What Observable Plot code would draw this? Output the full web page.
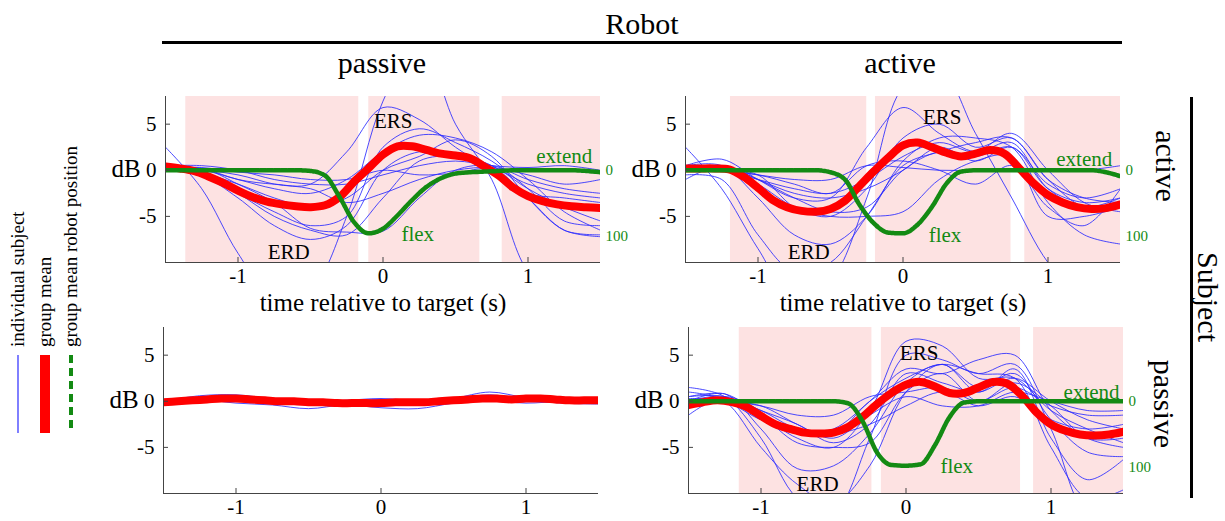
<!DOCTYPE html>
<html>
<head>
<meta charset="utf-8">
<script src="https://cdn.jsdelivr.net/npm/d3@7"></script>
<script src="https://cdn.jsdelivr.net/npm/@observablehq/plot@0.6"></script>
<style>
  body { margin: 0; background: #fff; }
  #fig { position: relative; width: 1225px; height: 521px; overflow: hidden; background: #fff;
         font-family: "Liberation Serif", "Times New Roman", serif; color: #000; }
  #fig svg text { font-family: "Liberation Serif", "Times New Roman", serif; }
  .abs { position: absolute; }
  .lbl { position: absolute; white-space: nowrap; transform: translate(-50%, -50%); line-height: 1; }
  .rot { transform: translate(-50%, -50%) rotate(90deg); }
</style>
</head>
<body>
<div id="fig"></div>
<script>
// ---- time grids (s) ----
const tKnots = [-1.5, -1.25, -1, -0.75, -0.5, -0.25, 0, 0.25, 0.5, 0.75, 1, 1.25, 1.5];
const tMean = [-1.5, -1.4, -1.3, -1.2, -1.1, -1, -0.9, -0.8, -0.7, -0.6, -0.5, -0.4, -0.3, -0.2, -0.1,
               0, 0.1, 0.2, 0.3, 0.4, 0.5, 0.6, 0.7, 0.8, 0.9, 1, 1.1, 1.2, 1.3, 1.4, 1.5];

// ---- axis ticks ----
const xTicks = [-1, 0, 1];
const yTicks = [-5, 0, 5];
const robotTicks = [0, 100];          // robot position (%), right-hand scale
const xDomain = [-1.5, 1.5];
const yDomain = [-10, 8];

// ---- Subject active / Robot passive ----
const apSubjects = [
  [2.5, -2.0, -9.0, -14, -13, -5, 7.5, 14, 5, -1, -11, -14, -12],
  [0.3, 0.2, -1, -1.5, -1.5, 2, 6.8, 5.5, 2.5, 0, -2.5, -3, -3.5],
  [0, -0.5, -2.5, -4.5, -6, -5, 2.5, 4.5, 3, 1, -2, -5.5, -6],
  [0, -0.3, -1.5, -3, -4, -3, 0, 1.5, 3.3, 1.5, -3, -6.5, -7],
  [0, 0, -1.0, -2, -2.5, -1, 2, 3.8, 3.5, 2, -1, -4.5, -6.5],
  [0.5, -0.5, -3, -6, -7.5, -6, 0, 2, 1.5, 0.5, -3, -6.5, -7.2],
  [0, -0.5, -2.5, -5, -6.5, -7, -3, 1, 1.5, 0.5, -2, -4, -5.5],
  [0, 0.2, -1.5, -3.5, -6.3, -6.7, -6.6, -3, 0, 0.5, -1, -2, -2.5],
  [0.5, 0.5, 0, -1, -1.5, -1.5, -0.5, 0.5, 1.0, 0.5, 0.3, 0.5, 0],
  [0, 0, -0.5, -1.5, -2.0, -3.5, -2.5, -1, 0, 0.3, -0.5, -1.5, -1],
  [0.3, 0.3, -0.2, -0.5, -1, -1, 0, -0.5, -0.3, 0.2, -1.5, -2.5, -3]
];
const apMean = [0.4, 0.2, -0.1, -0.7, -1.4, -2.2, -2.9, -3.4, -3.7, -3.9, -4.0, -3.8, -2.9, -1.25, 0.2,
                1.7, 2.6, 2.6, 2.2, 1.8, 1.6, 1.3, 0.4, -0.6, -1.9, -2.8, -3.35, -3.7, -3.9, -4.0, -4.1];
const apRobot = [0, 0, 0, 0, 0, 0, 0, 0, 0, 0, 1, 8, 40, 78, 95,
                 88, 68, 45, 25, 12, 5, 3, 2, 1, 0, 0, 0, 0, 0, 1, 3];
const apShades = [[-1.36, -0.167], [-0.098, 0.668], [0.822, 1.5]];

// ---- Subject active / Robot active ----
const aaSubjects = [
  [2.5, -2, -8.5, -14, -12, -3, 9, 11, 4, -3, -10, -14, -12],
  [0.5, 1.2, -1, -3, -3, 2.5, 6.8, 4, 2, 3, -2, -4, -3],
  [0, 0.3, -1.5, -4, -5, -2, 3.5, 5.0, 2.5, 3.5, -1, -3, -3.5],
  [0, 0, -1, -2, -2.5, -1, 1.5, 3, 2, 4.0, 0, -3.5, -4.5],
  [0.5, 0.5, -3, -7, -8, -5, 1, 3.5, 3.5, 2.5, -3.5, -7, -8],
  [-0.5, -1, -7, -11, -10, -5, 0.5, 2, 3, 3.5, -1, -4, -4],
  [-1, 0.5, -1, -2.5, -3.0, -2.0, 0, 2.5, 1.0, 2.5, -1.5, -3, -2],
  [0, 0, -0.5, -1, -1, 0.5, 0.3, 0, 0, 0, 0, 0, 0.5],
  [0.3, 0, -0.5, -4, -5, -5, -4.5, -1, 1, 1.5, -5, -5, -4],
  [0, 0.5, -1, -3, -4.5, -4, 0, 2, 1.5, 2.5, -2, -3.5, -3],
  [0, 0, -0.5, -1.5, -2.5, 0.5, 1, 0, -1.5, 0.5, -4, -6, -2]
];
const aaMean = [0.2, 0.2, 0.2, 0.1, -0.7, -1.9, -3.2, -4.0, -4.4, -4.5, -4.2, -3.3, -1.7, -0.1, 1.4,
                2.7, 3.0, 2.5, 1.9, 1.5, 1.8, 2.2, 1.8, 0.25, -1.4, -2.7, -3.5, -4.0, -4.2, -4.1, -3.7];
const aaRobot = [0, 0, 0, 0, 0, 0, 0, 0, 0, 0, 3, 14, 52, 80, 94,
                 95, 82, 55, 20, 2, 0, 0, 0, 0, 0, 0, 0, 0, 0, 3, 9];
const aaShades = [[-1.19, -0.25], [-0.19, 0.745], [0.84, 1.5]];

// ---- Subject passive / Robot passive ----
const ppSubjects = [
  [0, 0.6, 0.7, 0.3, 0.2, 0, 0.2, -0.2, 0.3, 1.0, 0.4, 0.2, 0.2],
  [0, 0.2, -0.2, -0.4, -0.8, -0.4, -0.7, -0.8, -0.2, 0.2, 0.1, -0.2, -0.3],
  [0, 0.1, 0.4, 0.2, -0.2, -0.2, 0.1, 0.1, 0.2, 0.7, 0.2, 0.3, 0.4],
  [0, 0.1, 0, -0.1, -0.3, -0.2, -0.4, -0.3, 0, 0.1, -0.2, 0, -0.1],
  [0, 0, 0.1, 0.2, 0, 0.1, 0.3, 0.1, 0.4, 0.3, 0.4, 0.4, 0.4]
];
const ppMean = [-0.1, 0.0, 0.1, 0.2, 0.3, 0.3, 0.2, 0.1, 0.0, 0.0, -0.1, -0.1, -0.2, -0.2, -0.2,
                -0.2, -0.1, -0.1, -0.1, 0.0, 0.1, 0.2, 0.3, 0.3, 0.2, 0.3, 0.3, 0.2, 0.1, 0.1, 0.1];

// ---- Subject passive / Robot active ----
const paSubjects = [
  [1.5, 0.5, -4, -10.5, -12, -4, 5, 4.5, 3, 4, -3, -12, -10],
  [0.5, 0.8, -1.5, -4, -5, -1, 6.5, 6, 2.5, 2.5, -1, -3, -4.5],
  [0, 0.5, -2, -3.5, -3, 0, 3.5, 3, 4.5, 5, -1, -4, -5],
  [0, 0.8, -3, -7.3, -7, -3.5, 2, 4.0, 1.5, 3, -2, -5.5, -6],
  [1, 0, -5, -9, -11, -7, 1, 4, 1, 3.5, -4, -8.5, -6.3],
  [-1.5, 0.5, -1, -2.5, -4.5, -2.5, 3, 2, 1, 2.5, 0, -2, -3],
  [0, 0, -0.5, -1.5, -1.5, 0.5, 1, 1.5, 0, 1.5, -0.5, -1.5, -1.5],
  [0.5, 0.5, -1.5, -4.5, -5, -4.5, 1.0, 3, 0, 2, -0.5, -4, -4],
  [0, 0.3, -1, -3, -3.5, -2.5, -0.5, 1, -0.5, 0.5, -2, -3, -2.5],
  [0.3, 0, -2, -3, -3.5, 0, 2.5, 4.0, 3, 2.5, -5, -10.5, -9.6],
  [0, 0, -0.5, -2.5, -4.0, -1.5, 0.5, -0.5, -0.5, 1.0, 0, -1, -1]
];
const paMean = [-0.4, -0.1, 0.1, -0.1, -0.6, -1.6, -2.5, -3.0, -3.4, -3.5, -3.4, -2.8, -1.7, -0.3, 0.9,
                1.8, 2.1, 1.6, 0.9, 0.9, 1.5, 2.1, 1.9, 0.6, -1.2, -2.5, -3.2, -3.6, -3.7, -3.6, -3.3];
const paRobot = [0, 0, 0, 0, 0, 0, 0, 0, 0, 0, 0, 3, 30, 77, 96,
                 97, 95, 66, 24, 2, 0, 0, 0, 0, 0, 0, 0, 0, 0, 0, 0];
const paShades = [[-1.15, -0.235], [-0.17, 0.79], [0.88, 1.5]];

// ---- in-panel annotations: [t, dB, text, kind] ----
const apNotes = [[0.07, 5.3, "ERS", "k"], [-0.65, -8.9, "ERD", "k"], [1.25, 1.55, "extend", "g"], [0.24, -6.9, "flex", "g"]];
const aaNotes = [[0.27, 5.7, "ERS", "k"], [-0.65, -8.9, "ERD", "k"], [1.25, 1.2, "extend", "g"], [0.29, -7.1, "flex", "g"]];
const paNotes = [[0.09, 5.2, "ERS", "k"], [-0.61, -8.95, "ERD", "k"], [1.28, 1.0, "extend", "g"], [0.35, -7.1, "flex", "g"]];

// ---- styling ----
const FONT = "Liberation Serif";
const BLUE = "#2b2bff";
const RED = "#ff0000";
const GREEN = "#138a13";
const PINK = "#fde2e2";
const AXIS = "#444";
const DB_PER_PERCENT = -0.072;   // robot position 0..100 % drawn against the dB axis

const fig = document.getElementById("fig");

const rows = (ts, vs, extra = {}) => ts.map((t, i) => ({t, v: vs[i], ...extra}));

function drawPanel(p) {
  const mL = 80, mR = 50, mT = 10, mB = 64;
  const marks = [];
  if (p.shades) marks.push(Plot.rect(p.shades, {x1: d => d[0], x2: d => d[1], fill: PINK}));
  const subj = p.subjects.flatMap((vs, s) => rows(tKnots, vs, {s}));
  marks.push(Plot.line(subj, {x: "t", y: "v", z: "s", stroke: BLUE, strokeWidth: 1, strokeOpacity: 0.85,
                              curve: "catmull-rom", clip: true}));
  marks.push(Plot.line(rows(tMean, p.mean), {x: "t", y: "v", stroke: RED, strokeWidth: 8,
                                             curve: "catmull-rom", clip: true}));
  if (p.robot) {
    marks.push(Plot.line(rows(tMean, p.robot), {x: "t", y: d => d.v * DB_PER_PERCENT, stroke: GREEN,
                                                strokeWidth: 4.5, strokeDasharray: "2.5,1", curve: "monotone-x", clip: true}));
    marks.push(Plot.axisY({anchor: "right", ticks: robotTicks.map(r => r * DB_PER_PERCENT),
                           tickFormat: d => String(Math.round(d / DB_PER_PERCENT)),
                           tickSize: 0, tickPadding: 5, fill: GREEN, fontSize: 15, label: null}));
  }
  marks.push(Plot.ruleX([xDomain[0]], {stroke: AXIS, strokeWidth: 1}));
  marks.push(Plot.ruleY([yDomain[0]], {stroke: AXIS, strokeWidth: 1}));
  marks.push(Plot.axisY({anchor: "left", ticks: yTicks, tickFormat: d => d === 0 ? "dB 0" : String(d),
                         tickSize: -5, tickPadding: 14, stroke: AXIS, fill: "#000", fontSize: 21, label: null}));
  marks.push(Plot.axisX({anchor: "bottom", ticks: xTicks, tickFormat: d => String(d),
                         tickSize: -5, tickPadding: 11, stroke: AXIS, fill: "#000", fontSize: 21, label: null}));
  if (p.notes) {
    marks.push(Plot.text(p.notes, {x: d => d[0], y: d => d[1], text: d => d[2],
                                   fill: d => d[3] === "g" ? GREEN : "#000", fontSize: 21}));
  }
  if (p.xTitle) {
    marks.push(Plot.text([p.xTitle], {frameAnchor: "bottom", dy: 48, text: d => d, fontSize: 25, fill: "#000"}));
  }
  const chart = Plot.plot({
    width: p.w + mL + mR, height: p.h + mT + mB,
    marginLeft: mL, marginRight: mR, marginTop: mT, marginBottom: mB,
    x: {domain: xDomain}, y: {domain: yDomain},
    style: {fontFamily: FONT, fontSize: "20px", background: "transparent", color: "#000", overflow: "visible"},
    marks
  });
  // serif lettering for every text the chart holds, tick labels included
  d3.select(chart).selectAll("text, g").style("font-family", `"${FONT}", serif`);
  // the unit "dB" beside the zero tick is set a little larger than the digits
  d3.select(chart).selectAll("text").filter(function() { return this.textContent === "dB 0"; })
    .each(function() {
      const t = d3.select(this).text(null);
      t.append("tspan").attr("font-size", 25).text("dB");
      t.append("tspan").text(" 0");
    });
  chart.style.position = "absolute";
  chart.style.left = (p.left - mL) + "px";
  chart.style.top = (p.top - mT) + "px";
  fig.appendChild(chart);
}

const xTitle = "time relative to target (s)";
drawPanel({left: 165, top: 96, w: 435, h: 166, subjects: apSubjects, mean: apMean, robot: apRobot, shades: apShades, notes: apNotes, xTitle});
drawPanel({left: 685, top: 96, w: 435, h: 166, subjects: aaSubjects, mean: aaMean, robot: aaRobot, shades: aaShades, notes: aaNotes, xTitle});
drawPanel({left: 163, top: 327, w: 435, h: 166, subjects: ppSubjects, mean: ppMean});
drawPanel({left: 688, top: 327, w: 435, h: 166, subjects: paSubjects, mean: paMean, robot: paRobot, shades: paShades, notes: paNotes});

// ---- headers and side labels ----
function label(text, x, y, size, rotate) {
  const d = document.createElement("div");
  d.className = "lbl" + (rotate ? " rot" : "");
  d.textContent = text;
  d.style.left = x + "px"; d.style.top = y + "px"; d.style.fontSize = size + "px";
  fig.appendChild(d);
}
function bar(x, y, w, h) {
  const d = document.createElement("div");
  d.className = "abs";
  Object.assign(d.style, {left: x + "px", top: y + "px", width: w + "px", height: h + "px", background: "#000"});
  fig.appendChild(d);
}
label("Robot", 642, 24, 30);
bar(162, 41, 960, 3);
label("passive", 382, 63, 30);
label("active", 900, 63, 30);
label("active", 1166, 166, 30, true);
label("passive", 1164, 404, 30, true);
label("Subject", 1208, 297, 30, true);
bar(1190, 97, 3, 401);

// ---- legend ----
const legendItems = [
  {text: "individual subject", x: 18, stroke: BLUE, width: 1.2, dash: null},
  {text: "group mean", x: 45, stroke: RED, width: 10, dash: null},
  {text: "group mean robot position", x: 71, stroke: GREEN, width: 4, dash: "8,5"}
];
const NS = "http://www.w3.org/2000/svg";
const leg = document.createElementNS(NS, "svg");
leg.setAttribute("width", 100); leg.setAttribute("height", 521);
leg.style.position = "absolute"; leg.style.left = "0px"; leg.style.top = "0px";
for (const it of legendItems) {
  const t = document.createElementNS(NS, "text");
  t.setAttribute("transform", `translate(${it.x + 6},347) rotate(-90)`);
  t.setAttribute("font-family", FONT); t.setAttribute("font-size", 19);
  t.textContent = it.text;
  leg.appendChild(t);
  const l = document.createElementNS(NS, "line");
  l.setAttribute("x1", it.x); l.setAttribute("x2", it.x);
  l.setAttribute("y1", 355); l.setAttribute("y2", 433);
  l.setAttribute("stroke", it.stroke); l.setAttribute("stroke-width", it.width);
  if (it.dash) l.setAttribute("stroke-dasharray", it.dash);
  leg.appendChild(l);
}
fig.appendChild(leg);
</script>
</body>
</html>
